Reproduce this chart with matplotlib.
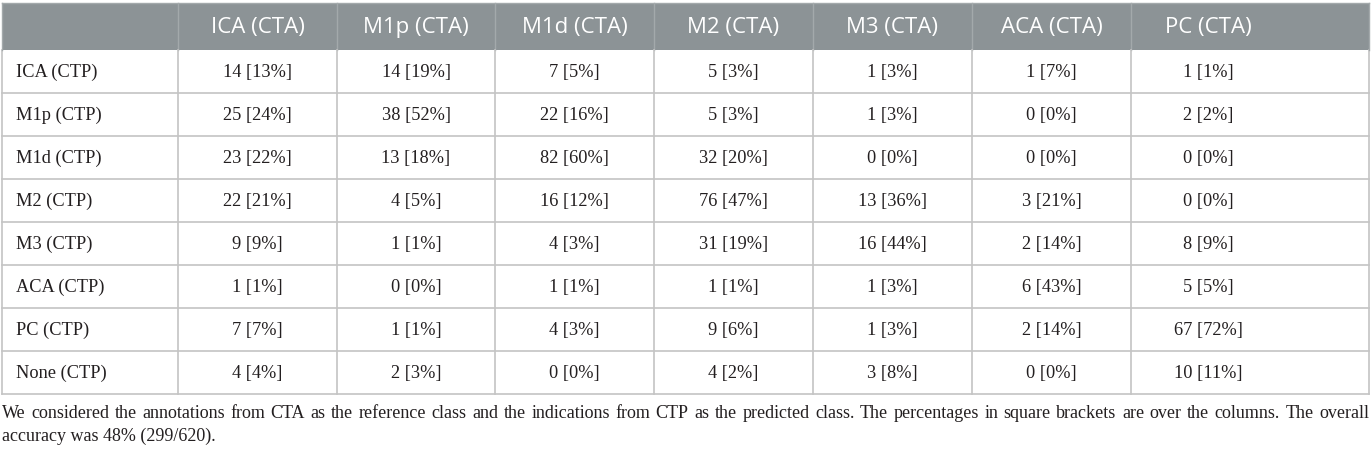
import matplotlib
matplotlib.use("Agg")
import matplotlib.pyplot as plt
from matplotlib.patches import Rectangle

# ------------------------------
# Table data
# ------------------------------
col_labels = ["ICA (CTA)", "M1p (CTA)", "M1d (CTA)", "M2 (CTA)", "M3 (CTA)", "ACA (CTA)", "PC (CTA)"]
row_labels = ["ICA (CTP)", "M1p (CTP)", "M1d (CTP)", "M2 (CTP)", "M3 (CTP)", "ACA (CTP)", "PC (CTP)", "None (CTP)"]

counts = [
    [14, 14, 7, 5, 1, 1, 1],
    [25, 38, 22, 5, 1, 0, 2],
    [23, 13, 82, 32, 0, 0, 0],
    [22, 4, 16, 76, 13, 3, 0],
    [9, 1, 4, 31, 16, 2, 8],
    [1, 0, 1, 1, 1, 6, 5],
    [7, 1, 4, 9, 1, 2, 67],
    [4, 2, 0, 4, 3, 0, 10],
]
percents = [
    [13, 19, 5, 3, 3, 7, 1],
    [24, 52, 16, 3, 3, 0, 2],
    [22, 18, 60, 20, 0, 0, 0],
    [21, 5, 12, 47, 36, 21, 0],
    [9, 1, 3, 19, 44, 14, 9],
    [1, 0, 1, 1, 3, 43, 5],
    [7, 1, 3, 6, 3, 14, 72],
    [4, 3, 0, 2, 8, 0, 11],
]

footnote_lines = [
    "We considered the annotations from CTA as the reference class and the indications from CTP as the predicted class. "
    "The percentages in square brackets are over the columns. The overall",
    "accuracy was 48% (299/620).",
]

# ------------------------------
# Layout (pixels)
# ------------------------------
W, H = 1372, 450
col_edges = [2, 178, 337, 495, 654, 813, 972, 1131, 1369]
header_top, header_bot = 3, 50
row_h = 43
header_color = "#8c9396"
grid_color = "#c4c4c4"
text_color = "#231f20"
body_size = 13.2
header_size = 16

fig = plt.figure(figsize=(W / 100, H / 100), dpi=100)
ax = fig.add_axes([0, 0, 1, 1])
ax.set_xlim(0, W)
ax.set_ylim(H, 0)
ax.axis("off")

n_rows = len(row_labels)
table_bot = header_bot + n_rows * row_h

# header background
ax.add_patch(Rectangle((col_edges[0], header_top), col_edges[-1] - col_edges[0],
                       header_bot - header_top, facecolor=header_color, edgecolor="none"))

# header separators
for x in col_edges[1:-1]:
    ax.plot([x, x], [header_top, header_bot], color="#a3a9ab", lw=1)
# body vertical lines
for x in col_edges:
    ax.plot([x, x], [header_bot, table_bot], color=grid_color, lw=1.2)
# outer border
ax.plot([col_edges[0], col_edges[-1]], [header_top, header_top], color="#a3a9ab", lw=1)
ax.plot([col_edges[0], col_edges[0]], [header_top, header_bot], color="#a3a9ab", lw=1)
ax.plot([col_edges[-1], col_edges[-1]], [header_top, header_bot], color="#a3a9ab", lw=1)
for i in range(1, n_rows + 1):
    y = header_bot + i * row_h
    ax.plot([col_edges[0], col_edges[-1]], [y, y], color=grid_color, lw=1.2)

# text centers for each data column (last column text is not centered in its cell)
centers = [(col_edges[j] + col_edges[j + 1]) / 2 for j in range(1, len(col_edges) - 2)]
centers.append(col_edges[-2] + 77)

for j, lab in enumerate(col_labels):
    ax.text(centers[j], (header_top + header_bot) / 2 + 1, lab, ha="center", va="center",
            color="white", fontsize=header_size, family="Open Sans")

for i, rl in enumerate(row_labels):
    yc = header_bot + i * row_h + row_h / 2 + 1
    ax.text(col_edges[0] + 14, yc, rl, ha="left", va="center", color=text_color,
            fontsize=body_size, family="Liberation Serif")
    for j in range(len(col_labels)):
        ax.text(centers[j], yc, f"{counts[i][j]} [{percents[i][j]}%]", ha="center", va="center",
                color=text_color, fontsize=body_size, family="Liberation Serif")

# footnote, first line justified to the table width
fig.canvas.draw()
renderer = fig.canvas.get_renderer()
foot_kw = dict(color=text_color, fontsize=13, family="Liberation Serif", va="center")
words = footnote_lines[0].split(" ")
tmp = [ax.text(0, 0, w, **foot_kw) for w in words]
widths = [t.get_window_extent(renderer).width for t in tmp]
for t in tmp:
    t.remove()
gap = (col_edges[-1] - col_edges[0] - sum(widths)) / (len(words) - 1)
x = col_edges[0]
for w, wd in zip(words, widths):
    ax.text(x, 413, w, ha="left", **foot_kw)
    x += wd + gap
ax.text(col_edges[0], 436, footnote_lines[1], ha="left", **foot_kw)

fig.savefig("out.png", dpi=100, facecolor="white")
